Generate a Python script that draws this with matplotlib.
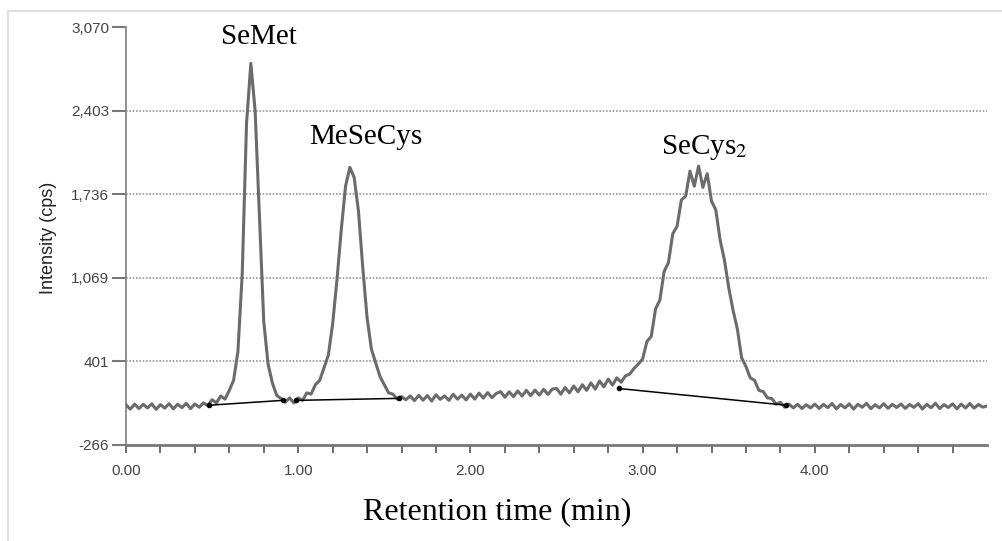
import numpy as np
import matplotlib
matplotlib.use("Agg")
import matplotlib.pyplot as plt
from matplotlib.lines import Line2D
from matplotlib.ticker import FixedLocator, FuncFormatter

plt.rcParams['mathtext.fontset'] = 'stix'

# retention time grid (min) and intensity (cps), 0.025 min apart
t = np.arange(0, 201) * 0.025
cps = [
    # 0.0 - 0.5
    55, 20, 60, 25, 58, 30, 62, 18, 56, 28, 64, 22, 59, 32, 66, 24, 61, 35, 70, 48,
    # 0.5 - 1.0  (SeMet)
    95, 70, 125, 100, 170, 250, 480, 1100, 2300, 2780, 2400, 1550, 720, 380, 230, 130, 105, 75, 110, 70,
    # 1.0 - 1.5  (MeSeCys)
    110, 90, 150, 140, 215, 250, 350, 450, 700, 1050, 1450, 1800, 1950, 1870, 1600, 1150, 750, 500, 390, 280,
    # 1.5 - 2.0
    215, 150, 140, 100, 120, 95, 125, 88, 130, 92, 128, 85, 135, 98, 126, 90, 138, 100, 132, 94,
    # 2.0 - 2.5
    140, 100, 148, 108, 152, 112, 145, 160, 115, 158, 120, 165, 125, 170, 128, 172, 132, 178, 138, 180,
    # 2.5 - 3.0
    185, 140, 192, 150, 205, 158, 215, 170, 230, 180, 245, 198, 260, 212, 270, 235, 285, 300, 345, 380,
    # 3.0 - 3.5  (SeCys2)
    420, 560, 600, 820, 890, 1120, 1190, 1420, 1480, 1690, 1720, 1920, 1800, 1960, 1790, 1900, 1680, 1610, 1370, 1210,
    # 3.5 - 4.0
    990, 810, 660, 430, 360, 270, 250, 170, 160, 110, 105, 60, 75, 35, 60, 30, 58, 25, 55, 30,
    # 4.0 - 4.5
    60, 25, 58, 32, 65, 22, 57, 30, 62, 20, 59, 35, 66, 24, 55, 30, 63, 27, 58, 33,
    # 4.5 - 5.0
    61, 26, 57, 34, 64, 21, 58, 31, 67, 25, 56, 33, 62, 23, 60, 29, 65, 28, 57, 36,
    45,
]

# integration baselines (start/end of each peak)
base_t = [[0.48, 0.91], [0.99, 1.585], [2.86, 3.835]]
base_y = [[51, 90], [90, 106], [185, 51]]

yticks = [-266, 401, 1069, 1736, 2403, 3070]
peaks = ["SeMet", "MeSeCys", r"SeCys$_2$"]
peak_t = [0.77, 1.39, 3.36]
peak_y = [2990, 2195, 2110]

fig = plt.figure(figsize=(10.03, 5.41), dpi=100)
ax = fig.add_axes([0.1256, 0.1775, 0.8585, 0.7725])

ax.plot(t, cps, color="#6b6b6b", lw=2.2, zorder=3)
for bt, by in zip(base_t, base_y):
    ax.plot(bt, by, color="black", lw=1.1, marker="o", ms=3, zorder=4)

ax.set_xlim(0, 5.0)
ax.set_ylim(-266, 3070)

ax.xaxis.set_major_locator(FixedLocator([0, 1, 2, 3, 4]))
ax.xaxis.set_minor_locator(FixedLocator([0.2, 0.4, 0.6, 0.8, 1.2, 1.4, 1.6, 1.8, 2.2, 2.4, 2.6, 2.8,
                                         3.2, 3.4, 3.6, 3.8, 4.2, 4.4, 4.6, 4.8]))
ax.xaxis.set_major_formatter(FuncFormatter(lambda v, p: f"{v:.2f}"))
ax.set_yticks(yticks)
ax.yaxis.set_major_formatter(FuncFormatter(lambda v, p: f"{int(v):,}"))

for lab in ax.get_xticklabels() + ax.get_yticklabels():
    lab.set_fontfamily(["Liberation Sans Narrow", "Liberation Sans", "DejaVu Sans"])
    lab.set_fontsize(11)
    lab.set_color("#444444")

ax.tick_params(axis="y", length=10, width=1.5, color="#777777", pad=2)
ax.tick_params(axis="x", which="both", length=6, width=1.2, color="#555555", pad=8)

for s in ["top", "right"]:
    ax.spines[s].set_visible(False)
ax.spines["left"].set_color("#888888")
ax.spines["left"].set_linewidth(1.3)
ax.spines["bottom"].set_color("#777777")
ax.spines["bottom"].set_linewidth(2.0)

for gy in yticks[1:-1]:
    ax.axhline(gy, color="#9a9a9a", lw=1.2, ls=(0, (1, 1)), zorder=1)

for name, px, py in zip(peaks, peak_t, peak_y):
    ax.text(px, py, name, ha="center", va="center", fontsize=21,
            family="Liberation Serif", color="black")

fig.text(0.048, 0.56, "Intensity (cps)", rotation=90, ha="center", va="center",
         fontsize=13, family="Liberation Sans", color="#222222")
fig.text(0.496, 0.054, "Retention time (min)", ha="center", va="center",
         fontsize=23, family="Liberation Serif", color="black")

# light frame around the picture
fig.add_artist(Line2D([0.008, 1.0], [0.98, 0.98], color="#e0e0e0", lw=1.5))
fig.add_artist(Line2D([0.008, 0.008], [0.0, 0.98], color="#e0e0e0", lw=1.5))

fig.savefig("out.png", dpi=100)
